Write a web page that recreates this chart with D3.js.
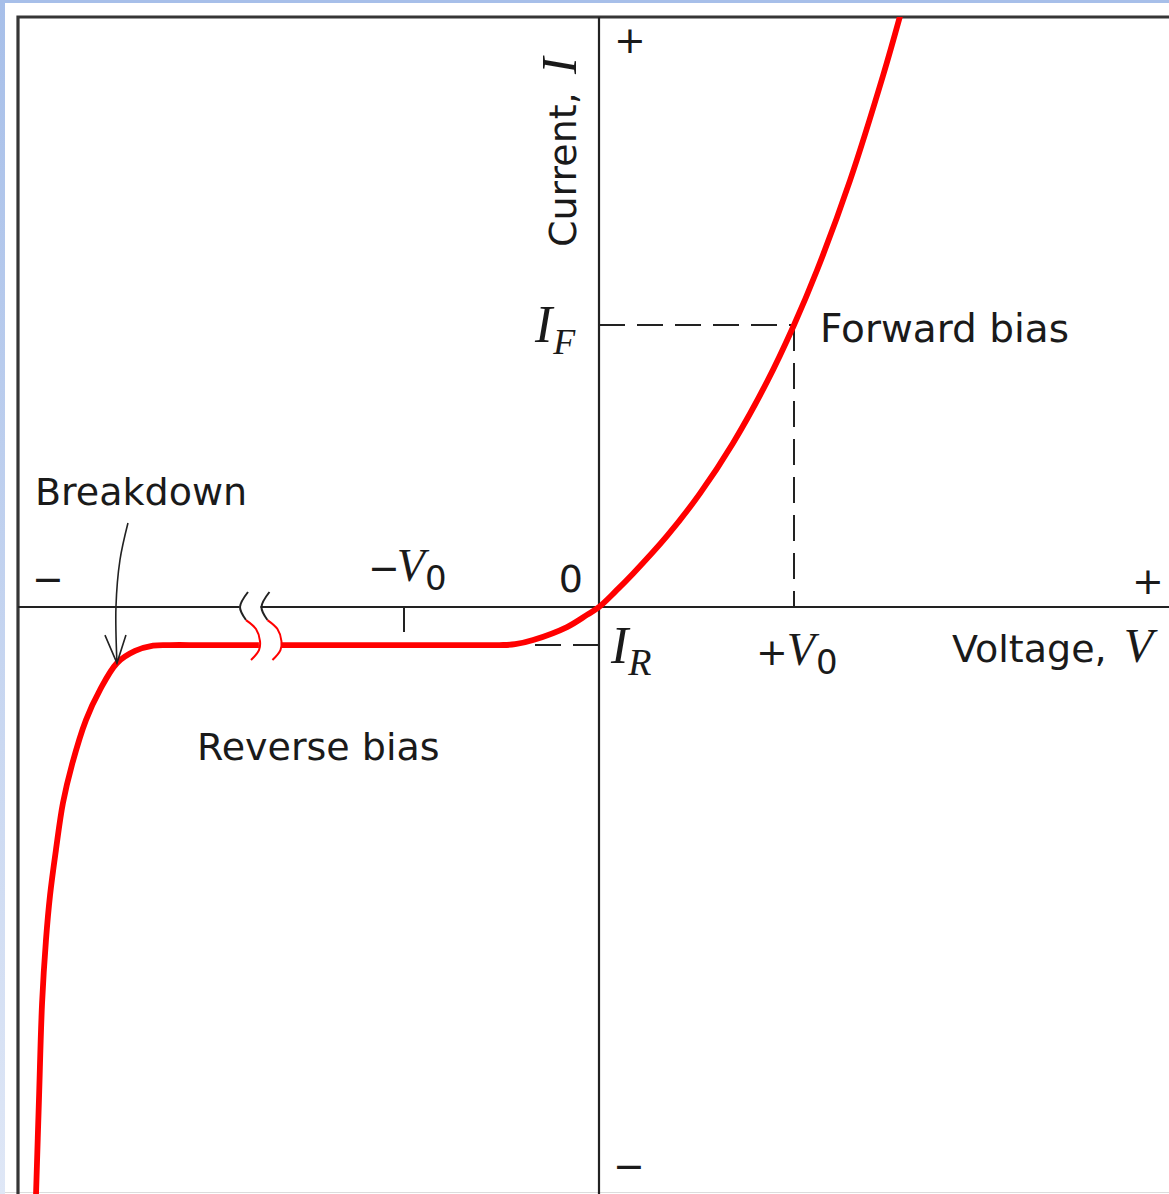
<!DOCTYPE html>
<html>
<head>
<meta charset="utf-8">
<script src="https://cdn.jsdelivr.net/npm/d3@7"></script>
<style>
  html, body { margin: 0; padding: 0; background: #fff; }
  svg { display: block; }
</style>
</head>
<body>
<svg id="chart" width="1169" height="1194"></svg>
<script>
// Diode current–voltage characteristic.
// Voltage is expressed in units of V0, current in units of I_F.

// Breakdown branch (left of the axis break)
const breakdownV = [-2.887, -2.872, -2.856, -2.836, -2.815, -2.785, -2.749, -2.703, -2.631, -2.559, -2.472, -2.379, -2.287, -2.20, -2.05, -1.90, -1.744];
const breakdownI = [-2.082, -1.748, -1.404, -1.181, -1.021, -0.862, -0.695, -0.560, -0.401, -0.294, -0.199, -0.156, -0.137, -0.135, -0.135, -0.135, -0.135];

// Reverse saturation plateau and forward conduction (right of the axis break)
const conductV = [-1.631, -1.40, -1.00, -0.70, -0.51, -0.43, -0.338, -0.164, -0.062, 0, 0.087, 0.174, 0.349, 0.518, 0.687, 0.862, 1, 1.118, 1.287, 1.456, 1.544];
const conductI = [-0.135, -0.135, -0.135, -0.135, -0.135, -0.132, -0.117, -0.071, -0.028, 0, 0.057, 0.118, 0.252, 0.403, 0.581, 0.799, 1, 1.194, 1.512, 1.883, 2.096];

// Reference levels
const refV0 = 1;          // +V0 / −V0 marks
const refIF = 1;          // forward current at +V0
const refIR = -0.135;     // reverse saturation current
const kneeV = -2.472;     // breakdown knee pointed at by the arrow
const kneeI = -0.199;
const breakV = [-1.80, -1.69]; // axis break marks on the voltage axis

// Labels
const labelBreakdown = "Breakdown";
const labelForward = "Forward bias";
const labelReverse = "Reverse bias";
const labelVoltage = "Voltage, ";
const labelCurrent = "Current, ";

const svg = d3.select("#chart");
const W = 1169, H = 1194;

const x = d3.scaleLinear().domain([0, 1]).range([599, 794]);
const y = d3.scaleLinear().domain([0, 1]).range([607, 325]);

const frameL = 18, frameT = 17;
const sans = "'DejaVu Sans', sans-serif";
const serif = "'Liberation Serif', 'DejaVu Serif', serif";
const ink = "#222";
const red = "#ff0000";

// page background bands
const defs = svg.append("defs");
const grad = defs.append("linearGradient").attr("id", "band").attr("x1", 0).attr("y1", 0).attr("x2", 0).attr("y2", 1);
grad.append("stop").attr("offset", "0%").attr("stop-color", "#a7bfe9");
grad.append("stop").attr("offset", "100%").attr("stop-color", "#dfe7f6");
svg.append("rect").attr("x", 0).attr("y", 0).attr("width", W).attr("height", H).attr("fill", "#fff");
svg.append("rect").attr("x", 0).attr("y", 0).attr("width", 5).attr("height", H).attr("fill", "url(#band)");
svg.append("rect").attr("x", 0).attr("y", 0).attr("width", W).attr("height", 3).attr("fill", "#a7bfe9");
svg.append("line").attr("x1", 5).attr("x2", W).attr("y1", H - 1.5).attr("y2", H - 1.5)
  .attr("stroke", "#dcdcdc").attr("stroke-width", 1);

defs.append("clipPath").attr("id", "plot").append("rect")
  .attr("x", frameL).attr("y", frameT).attr("width", W - frameL).attr("height", H - frameT);

// frame
svg.append("path")
  .attr("d", `M${frameL},${H} V${frameT} H${W}`)
  .attr("fill", "none").attr("stroke", "#363636").attr("stroke-width", 3.2);

const g = svg.append("g").attr("clip-path", "url(#plot)");

// axes
const y0 = y(0), x0 = x(0);
const gapL = x(breakV[0]) - 9, gapR = x(breakV[1]) - 9;
g.append("line").attr("x1", frameL).attr("x2", gapL).attr("y1", y0).attr("y2", y0)
  .attr("stroke", ink).attr("stroke-width", 2.2);
g.append("line").attr("x1", gapR).attr("x2", W).attr("y1", y0).attr("y2", y0)
  .attr("stroke", ink).attr("stroke-width", 2.2);
g.append("line").attr("x1", x0).attr("x2", x0).attr("y1", frameT).attr("y2", H)
  .attr("stroke", ink).attr("stroke-width", 2.2);

// tick at −V0
g.append("line").attr("x1", x(-refV0)).attr("x2", x(-refV0)).attr("y1", y0).attr("y2", y0 + 25)
  .attr("stroke", ink).attr("stroke-width", 2);

// dashed guides
const dash = "26,12";
g.append("line").attr("x1", x0).attr("x2", x(refV0)).attr("y1", y(refIF)).attr("y2", y(refIF))
  .attr("stroke", ink).attr("stroke-width", 2).attr("stroke-dasharray", dash);
g.append("line").attr("x1", x(refV0)).attr("x2", x(refV0)).attr("y1", y(refIF)).attr("y2", y0)
  .attr("stroke", ink).attr("stroke-width", 2).attr("stroke-dasharray", dash);
g.append("line").attr("x1", x0).attr("x2", x0 - 66).attr("y1", y(refIR)).attr("y2", y(refIR))
  .attr("stroke", ink).attr("stroke-width", 2).attr("stroke-dasharray", dash);

// I–V curve
const line = d3.line().x(d => x(d[0])).y(d => y(d[1])).curve(d3.curveCatmullRom.alpha(0.5));
const seg1 = breakdownV.map((v, i) => [v, breakdownI[i]]);
const seg2 = conductV.map((v, i) => [v, conductI[i]]);
[seg1, seg2].forEach(seg => {
  g.append("path").attr("d", line(seg)).attr("fill", "none")
    .attr("stroke", red).attr("stroke-width", 5.8).attr("stroke-linejoin", "round");
});

// axis break marks
const wave = d3.line().curve(d3.curveCatmullRom);
breakV.forEach(bv => {
  const bx = x(bv), cy = y(refIR);
  g.append("path")
    .attr("d", wave([[bx, y0 - 15], [bx - 8, y0], [bx - 2, y0 + 13]]))
    .attr("fill", "none").attr("stroke", ink).attr("stroke-width", 2);
  g.append("path")
    .attr("d", wave([[bx - 2, cy - 25], [bx + 8, cy - 16], [bx + 12, cy - 4], [bx + 11, cy + 5], [bx + 3, cy + 15]]))
    .attr("fill", "none").attr("stroke", red).attr("stroke-width", 2);
});

// breakdown arrow
const kx = x(kneeV), ky = y(kneeI);
g.append("path")
  .attr("d", wave([[kx + 11, 523], [kx + 3, 560], [kx - 1, y0], [kx, ky]]))
  .attr("fill", "none").attr("stroke", ink).attr("stroke-width", 1.6);
g.append("path")
  .attr("d", `M${kx - 12},${ky - 28} L${kx},${ky} L${kx + 9},${ky - 28}`)
  .attr("fill", "none").attr("stroke", ink).attr("stroke-width", 1.6);

// text
const T = svg.append("g").attr("fill", "#1a1a1a");
const fs = 38;

T.append("text").attr("x", 35).attr("y", 505).attr("font-family", sans).attr("font-size", fs).text(labelBreakdown);
T.append("text").attr("x", 820).attr("y", 342).attr("font-family", sans).attr("font-size", 39).text(labelForward);
T.append("text").attr("x", 197).attr("y", 760).attr("font-family", sans).attr("font-size", fs).text(labelReverse);
T.append("text").attr("x", 583).attr("y", 592).attr("text-anchor", "end").attr("font-family", sans).attr("font-size", fs).text("0");

// sign markers at axis ends
T.append("text").attr("x", 48).attr("y", 592).attr("text-anchor", "middle").attr("font-family", sans).attr("font-size", fs).text("−");
T.append("text").attr("x", 1148).attr("y", 594).attr("text-anchor", "middle").attr("font-family", sans).attr("font-size", fs).text("+");
T.append("text").attr("x", 630).attr("y", 53).attr("text-anchor", "middle").attr("font-family", sans).attr("font-size", fs).text("+");
T.append("text").attr("x", 629).attr("y", 1179).attr("text-anchor", "middle").attr("font-family", sans).attr("font-size", fs).text("−");

// −V0 label
const vm = T.append("text").attr("x", x(-refV0) - 36).attr("y", 581).attr("font-size", fs);
vm.append("tspan").attr("font-family", sans).text("−");
vm.append("tspan").attr("font-family", serif).attr("font-style", "italic").attr("font-size", 46).attr("dx", -3).text("V");
vm.append("tspan").attr("font-family", sans).attr("font-size", 34).attr("dy", 9).attr("dx", 0).text("0");

// +V0 label
const vp = T.append("text").attr("x", x(refV0) - 38).attr("y", 665).attr("font-size", fs);
vp.append("tspan").attr("font-family", sans).text("+");
vp.append("tspan").attr("font-family", serif).attr("font-style", "italic").attr("font-size", 46).attr("dx", -1).text("V");
vp.append("tspan").attr("font-family", sans).attr("font-size", 34).attr("dy", 9).attr("dx", 1).text("0");

// I_F label
const iF = T.append("text").attr("x", 535).attr("y", y(refIF) + 17);
iF.append("tspan").attr("font-family", serif).attr("font-style", "italic").attr("font-size", 52).text("I");
iF.append("tspan").attr("font-family", serif).attr("font-style", "italic").attr("font-size", 36).attr("dx", 1).attr("dy", 12).text("F");

// I_R label
const iR = T.append("text").attr("x", 611).attr("y", y(refIR) + 18);
iR.append("tspan").attr("font-family", serif).attr("font-style", "italic").attr("font-size", 52).text("I");
iR.append("tspan").attr("font-family", serif).attr("font-style", "italic").attr("font-size", 38).attr("dx", 0).attr("dy", 12).text("R");

// axis titles
const vt = T.append("text").attr("x", 952).attr("y", 662).attr("font-size", fs);
vt.append("tspan").attr("font-family", sans).text(labelVoltage);
vt.append("tspan").attr("font-family", serif).attr("font-style", "italic").attr("font-size", 48).attr("dx", 5).text("V");

const ct = T.append("text").attr("transform", "translate(576,247) rotate(-90)").attr("font-size", fs);
ct.append("tspan").attr("font-family", sans).text(labelCurrent);
ct.append("tspan").attr("font-family", serif).attr("font-style", "italic").attr("font-size", 50).attr("dx", 6).text("I");
</script>
</body>
</html>
